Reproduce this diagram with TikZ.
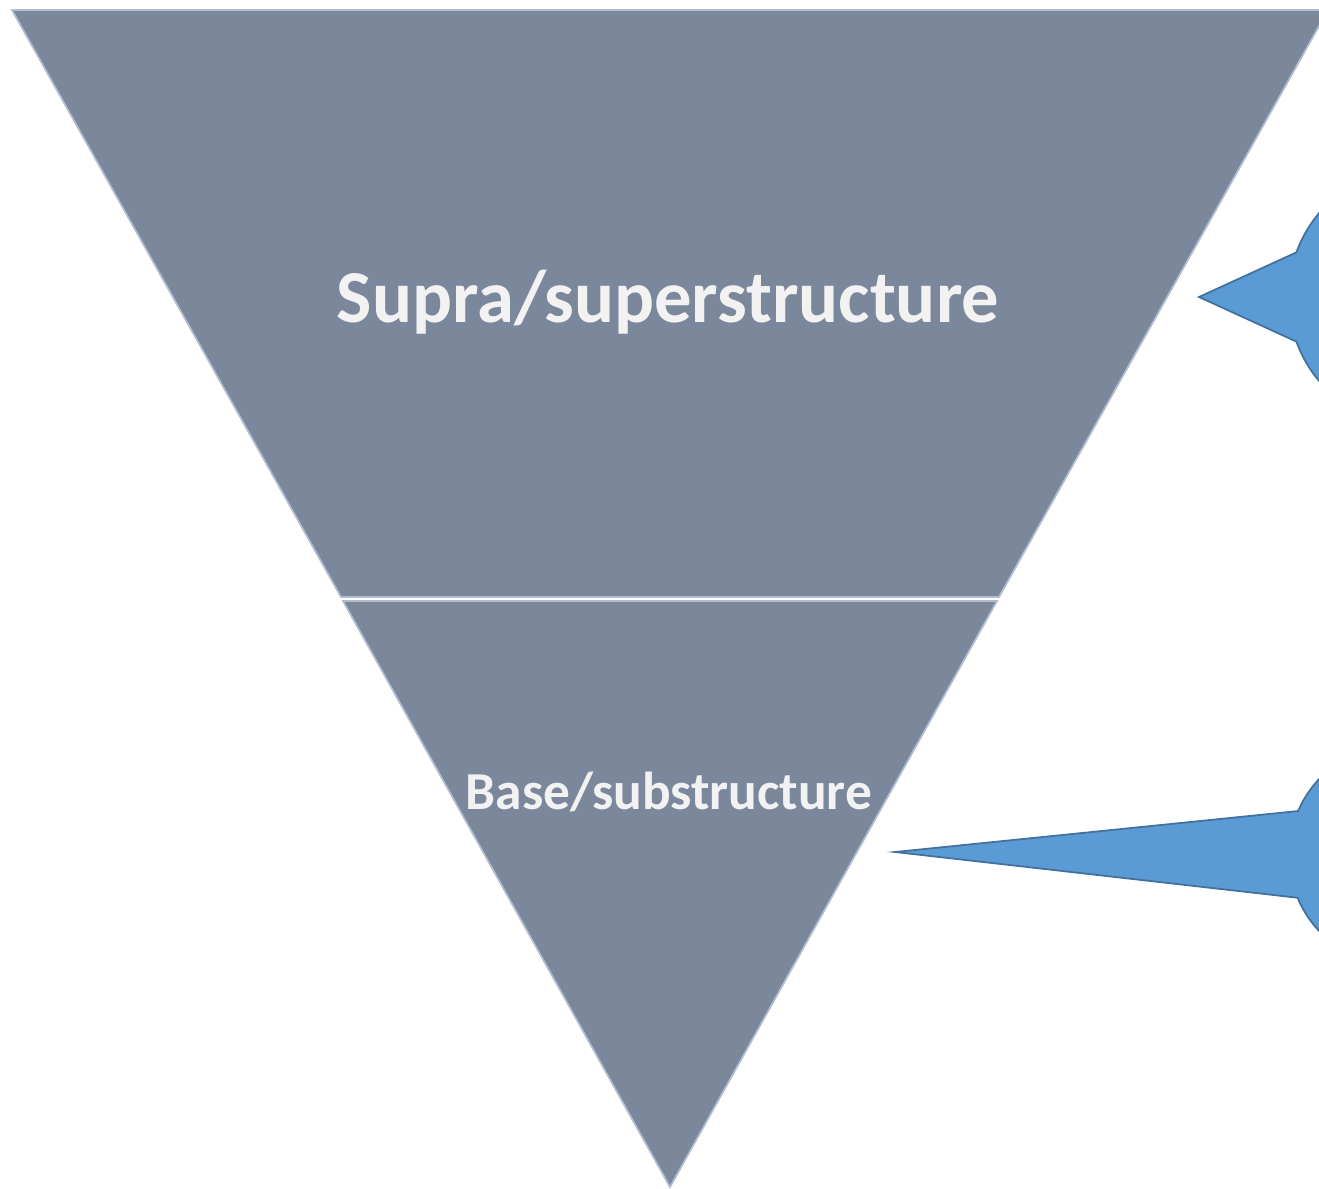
\documentclass[tikz,border=0pt]{standalone}
\usepackage{fontspec}
\setmainfont{Carlito}
\usepackage{tikz}
\usetikzlibrary{shapes.callouts}
\definecolor{slate}{RGB}{123,135,155}
\definecolor{slateedge}{RGB}{176,188,208}
\definecolor{callfill}{RGB}{91,155,213}
\definecolor{calldraw}{RGB}{65,113,156}

\begin{document}
\begin{tikzpicture}[x=0.02cm, y=-0.02cm,
  layer/.style={fill=slate, draw=slateedge, line width=1pt, line join=miter},
  layertext/.style={text=white!95!black, font=\bfseries},
  bubble/.style={ellipse callout, fill=callfill, draw=calldraw, line width=1pt, inner sep=0pt}]
 \useasboundingbox (0,0) rectangle (1319,1189);
 \clip (0,0) rectangle (1319,1189);

 % upper layer and lower layer
 \coordinate (tl) at (12,10);
 \coordinate (tr) at (1328,10);
 \coordinate (ml) at (341,597);
 \coordinate (mr) at (999,597);
 \coordinate (bl) at (343,601);
 \coordinate (br) at (997,601);
 \coordinate (apex) at (670,1187);
 \draw[layer] (tl) -- (tr) -- (mr) -- (ml) -- cycle;
 \draw[layer] (bl) -- (br) -- (apex) -- cycle;

 \node[layertext, font=\fontsize{42.5}{48}\bfseries\selectfont] (supra) at (668,302) {Supra/superstructure};
 \node[layertext, font=\fontsize{30.4}{35}\bfseries\selectfont] (base) at (669,792) {Base/substructure};

 % callouts
 \node[bubble, minimum width=5.22cm, minimum height=5.22cm,
   callout pointer arc=40, callout absolute pointer={(1199,297)}] (c1) at (1419,297) {};
 \node[bubble, minimum width=4.44cm, minimum height=4.44cm,
   callout pointer arc=46, callout absolute pointer={(895,852)}] (c2) at (1400,855) {};
\end{tikzpicture}
\end{document}
